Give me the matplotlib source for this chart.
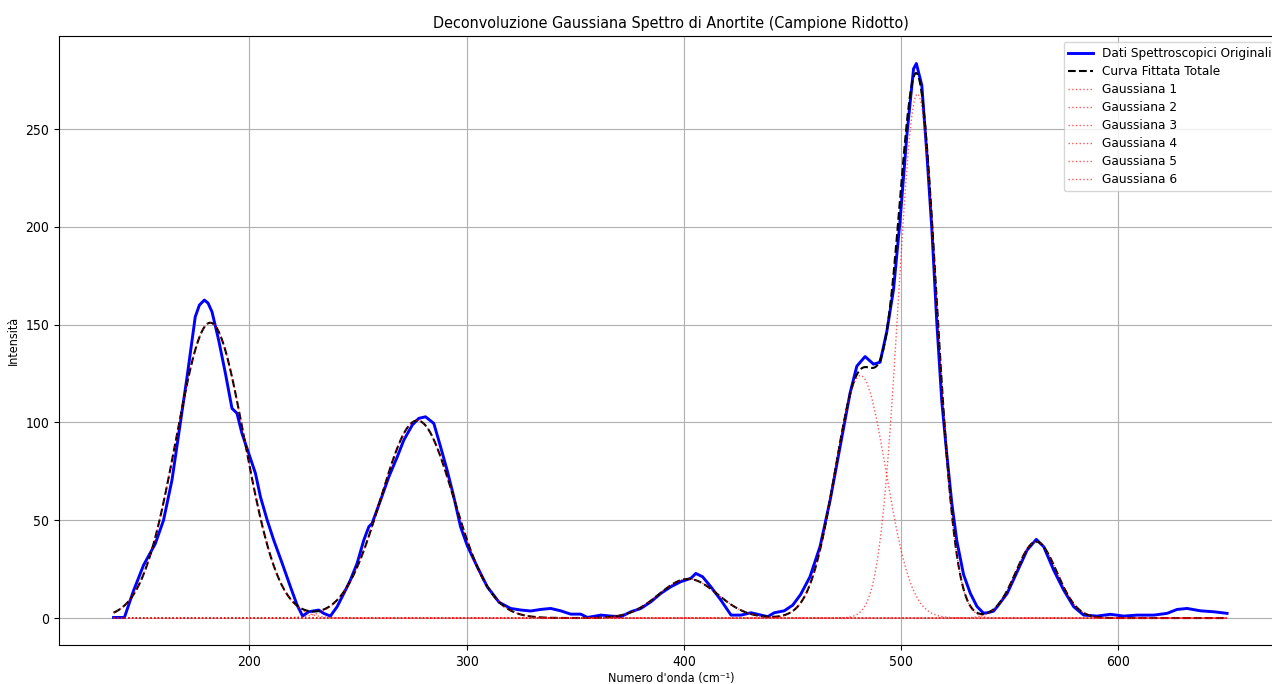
import numpy as np
import matplotlib
matplotlib.use("Agg")
import matplotlib.pyplot as plt

# Dati spettroscopici (numero d'onda, intensità)
numero_onda = [
    137.5, 142.5, 146.7, 151.3, 156.7, 160.5, 164.4, 168.2, 171.3, 175.1,
    177.0, 179.3, 181.0, 182.8, 185.9, 189.0, 192.0, 194.3, 196.6, 199.7,
    202.8, 205.1, 208.2, 211.2, 215.1, 218.9, 222.0, 224.5, 227.3, 231.9,
    234.2, 237.3, 240.4, 243.5, 246.5, 249.6, 252.7, 255.0, 256.5, 260.4,
    264.2, 268.1, 271.1, 275.0, 278.0, 281.1, 284.9, 288.0, 291.0, 294.1,
    297.2, 300.3, 304.9, 309.5, 315.0, 320.3, 324.9, 329.5, 334.1, 338.7,
    343.3, 347.9, 352.5, 355.6, 361.8, 366.4, 371.0, 375.6, 380.2, 384.8,
    389.4, 394.0, 398.6, 403.2, 405.5, 408.6, 412.4, 417.0, 421.7, 426.3,
    430.9, 435.5, 438.6, 441.6, 446.2, 450.1, 453.7, 458.0, 462.7, 467.3,
    471.9, 476.5, 479.6, 483.4, 487.3, 490.3, 493.4, 496.5, 499.5, 502.6,
    505.7, 507.0, 509.5, 511.8, 514.1, 516.4, 518.7, 521.0, 523.3, 525.6,
    528.7, 531.8, 534.9, 537.9, 539.6, 542.5, 544.2, 548.8, 553.4, 558.0,
    562.2, 565.6, 570.2, 574.8, 579.4, 584.0, 590.2, 596.3, 602.4, 608.6,
    616.3, 622.4, 627.0, 631.6, 637.7, 643.9, 650.0,
]
intensita = [
    0.3, 0.3, 14.0, 27.0, 38.0, 50.0, 70.6, 99.5, 123.0, 154.0,
    160.0, 162.6, 161.0, 156.6, 142.0, 125.0, 107.2, 104.7, 94.4, 84.2,
    74.0, 62.0, 50.1, 39.9, 28.0, 16.0, 6.6, 1.0, 3.2, 4.1,
    2.4, 1.0, 5.8, 12.6, 19.4, 28.0, 39.9, 46.7, 48.4, 60.3,
    72.2, 82.5, 91.0, 98.7, 102.1, 102.9, 99.5, 87.6, 75.7, 62.0,
    46.7, 37.0, 26.2, 16.0, 8.0, 4.9, 4.1, 3.6, 4.4, 4.9,
    3.7, 2.0, 2.0, 0.3, 1.5, 1.0, 0.7, 3.2, 4.9, 8.3,
    12.6, 16.0, 18.6, 20.3, 22.8, 21.1, 16.0, 9.2, 1.5, 1.5,
    2.7, 1.5, 0.7, 2.7, 3.7, 6.6, 12.0, 21.0, 36.7, 60.2,
    87.6, 115.1, 128.8, 133.7, 129.8, 130.8, 146.5, 168.1, 203.3, 246.5,
    280.8, 283.5, 272.4, 237.8, 199.3, 151.2, 110.8, 83.8, 58.8, 39.6,
    22.3, 12.7, 5.9, 2.5, 2.7, 3.5, 5.8, 12.6, 23.7, 34.8,
    40.2, 36.5, 24.5, 14.3, 5.8, 1.5, 1.0, 1.9, 1.0, 1.5,
    1.5, 2.4, 4.4, 4.9, 3.7, 3.2, 2.4,
]

# Parametri delle gaussiane fittate
centri = [182.0, 277.3, 402.0, 481.3, 507.5, 562.2]
ampiezze = [151.0, 101.0, 20.0, 124.0, 268.0, 39.0]
sigma = [15.7, 16.8, 13.5, 11.7, 8.8, 9.4]


def gaussiana(x, a, c, s):
    return a * np.exp(-((x - c) ** 2) / (2 * s ** 2))


plt.rcParams['font.family'] = ['DejaVu Sans']
plt.rcParams['font.stretch'] = 'condensed'

x_fit = np.linspace(min(numero_onda), max(numero_onda), 1200)
componenti = [gaussiana(x_fit, a, c, s) for a, c, s in zip(ampiezze, centri, sigma)]
totale = np.sum(componenti, axis=0)

fig = plt.figure(figsize=(12.72, 6.84), dpi=100)
ax = fig.add_axes([0.0464, 0.0564, 0.962, 0.891])

ax.plot(numero_onda, intensita, color='blue', linewidth=2.1,
        label='Dati Spettroscopici Originali')
ax.plot(x_fit, totale, color='black', linestyle='--', linewidth=1.5,
        label='Curva Fittata Totale')
for i, comp in enumerate(componenti):
    ax.plot(x_fit, comp, color='red', linestyle=':', linewidth=1, alpha=0.65,
            label=f'Gaussiana {i + 1}')

ax.set_xlim(112.4, 675.6)
ax.set_ylim(-14.0, 297.6)
ax.set_title("Deconvoluzione Gaussiana Spettro di Anortite (Campione Ridotto)",
             fontsize=11.5)
ax.set_xlabel("Numero d'onda (cm⁻¹)", fontsize=9, labelpad=2)
ax.set_ylabel("Intensità", fontsize=9, labelpad=4)
ax.tick_params(labelsize=10)
ax.grid(True)
ax.legend(loc='upper right', prop={'family': 'DejaVu Sans', 'stretch': 'normal', 'size': 8.7},
          labelspacing=0.42)

fig.savefig("out.png", dpi=100)
plt.close(fig)
